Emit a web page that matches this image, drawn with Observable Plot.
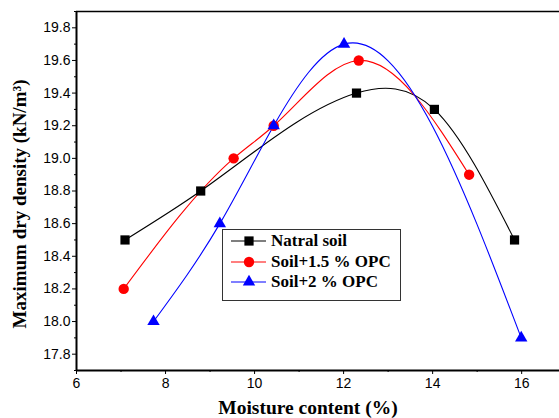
<!DOCTYPE html>
<html>
<head>
<meta charset="utf-8">
<script src="https://cdn.jsdelivr.net/npm/d3@7"></script>
<script src="https://cdn.jsdelivr.net/npm/@observablehq/plot@0.6"></script>
<style>
  html, body { margin: 0; padding: 0; background: #fff; }
  #wrap { position: relative; width: 559px; height: 418px; overflow: hidden; }
  #legend { position: absolute; left: 222px; top: 229px; width: 179px; height: 72px;
    border: 1px solid #333; background: #fff; box-sizing: border-box; }
  #legend .row { position: absolute; left: 0; height: 20px; width: 100%; }
  #legend svg { position: absolute; left: 8px; top: 0; }
  #legend span { position: absolute; left: 48px; top: 0; line-height: 20px;
    font-family: "Liberation Serif", "Times New Roman", serif; font-weight: bold; font-size: 17px; color: #000; white-space: nowrap; }
</style>
</head>
<body>
<div id="wrap"></div>
<script>
// ---- data ----
const seriesNames = ["Natral soil", "Soil+1.5 % OPC", "Soil+2 % OPC"];
const seriesColors = ["#000000", "#ff0000", "#0000ff"];
const seriesSymbols = ["square", "circle", "triangle"];

const moistureNatural = [7.09, 8.79, 12.29, 14.04, 15.84];
const densityNatural  = [18.5, 18.8, 19.4, 19.3, 18.5];

const moistureOpc15 = [7.06, 9.53, 10.43, 12.34, 14.82];
const densityOpc15  = [18.2, 19.0, 19.2, 19.6, 18.9];

const moistureOpc2 = [7.73, 9.22, 10.43, 12.01, 15.99];
const densityOpc2  = [18.0, 18.6, 19.2, 19.7, 17.9];

const xTicks = [6, 8, 10, 12, 14, 16];
const xMinorTicks = [7, 9, 11, 13, 15];
const yTicks = [17.8, 18.0, 18.2, 18.4, 18.6, 18.8, 19.0, 19.2, 19.4, 19.6, 19.8];
const yMinorTicks = [17.7, 17.9, 18.1, 18.3, 18.5, 18.7, 18.9, 19.1, 19.3, 19.5, 19.7, 19.9];
const xDomain = [6, 16.85];
const yDomain = [17.7, 19.9];
const xLabel = "Moisture content (%)";
const yLabel = "Maximum dry density (kN/m³)";

// ---- build table ----
const raw = [
  [moistureNatural, densityNatural],
  [moistureOpc15, densityOpc15],
  [moistureOpc2, densityOpc2]
];
const data = raw.flatMap(([xs, ys], i) => xs.map((x, j) => ({ x, y: ys[j], s: seriesNames[i] })));

// Curve factory: natural cubic spline of y as a function of x (like Origin's spline connector)
function curveSplineX(context) {
  let xs, ys;
  return {
    areaStart() {}, areaEnd() {},
    lineStart() { xs = []; ys = []; },
    point(x, y) { xs.push(+x); ys.push(+y); },
    lineEnd() {
      const n = xs.length;
      if (n === 0) return;
      context.moveTo(xs[0], ys[0]);
      if (n === 1) return;
      if (n === 2) { context.lineTo(xs[1], ys[1]); return; }
      const h = [], a = [], b = [], c = [], r = [];
      for (let i = 0; i < n - 1; ++i) h.push(xs[i + 1] - xs[i]);
      // solve for second derivatives M (M0 = Mn-1 = 0)
      const m = n - 2;
      for (let i = 1; i <= m; ++i) {
        a.push(h[i - 1]); b.push(2 * (h[i - 1] + h[i])); c.push(h[i]);
        r.push(6 * ((ys[i + 1] - ys[i]) / h[i] - (ys[i] - ys[i - 1]) / h[i - 1]));
      }
      for (let i = 1; i < m; ++i) {
        const w = a[i] / b[i - 1];
        b[i] -= w * c[i - 1];
        r[i] -= w * r[i - 1];
      }
      const M = new Array(n).fill(0);
      for (let i = m - 1; i >= 0; --i) {
        M[i + 1] = (r[i] - (i < m - 1 ? c[i] * M[i + 2] : 0)) / b[i];
      }
      for (let i = 0; i < n - 1; ++i) {
        const hi = h[i], s = (ys[i + 1] - ys[i]) / hi;
        const d0 = s - hi * (2 * M[i] + M[i + 1]) / 6;
        const d1 = s + hi * (M[i] + 2 * M[i + 1]) / 6;
        context.bezierCurveTo(
          xs[i] + hi / 3, ys[i] + d0 * hi / 3,
          xs[i + 1] - hi / 3, ys[i + 1] - d1 * hi / 3,
          xs[i + 1], ys[i + 1]
        );
      }
    }
  };
}

const colorScale = { domain: seriesNames, range: seriesColors };
const symbolScale = { domain: seriesNames, range: seriesSymbols };

const tickFont = { fontFamily: "'Liberation Sans', Arial, sans-serif", fontSize: 14 };
const serif = "'Liberation Serif', 'Times New Roman', serif";

const chart = Plot.plot({
  width: 559,
  height: 418,
  marginLeft: 76,
  marginRight: 0,
  marginTop: 11,
  marginBottom: 48,
  style: { background: "#fff", color: "#000", fontFamily: "'Liberation Sans', Arial, sans-serif", fontSize: "14px" },
  x: { domain: xDomain },
  y: { domain: yDomain },
  color: colorScale,
  symbol: symbolScale,
  marks: [
    Plot.axisX({ ticks: xTicks, tickSize: 4, tickPadding: 4, tickFormat: d3.format("d"), label: null, ...tickFont, fill: "#000" }),
    Plot.axisX({ ticks: xMinorTicks, tickSize: 2, tickFormat: () => "", label: null }),
    Plot.axisY({ ticks: yTicks, tickSize: 4, tickPadding: 2, tickFormat: d3.format(".1f"), label: null, ...tickFont, fill: "#000" }),
    Plot.axisY({ ticks: yMinorTicks, tickSize: 2, tickFormat: () => "", label: null }),
    Plot.ruleY([yDomain[1]], { stroke: "#000", strokeWidth: 1.6 }),
    Plot.ruleY([yDomain[0]], { stroke: "#000", strokeWidth: 2 }),
    Plot.ruleX([xDomain[0]], { stroke: "#000", strokeWidth: 2 }),
    Plot.line(data, { x: "x", y: "y", z: "s", stroke: "s", strokeWidth: 1.1, curve: curveSplineX }),
    Plot.dot(data.filter(d => d.s === seriesNames[0]), { x: "x", y: "y", symbol: "s", fill: "s", stroke: null, r: 5.2 }),
    Plot.dot(data.filter(d => d.s === seriesNames[1]), { x: "x", y: "y", symbol: "s", fill: "s", stroke: null, r: 5.2 }),
    Plot.dot(data.filter(d => d.s === seriesNames[2]), { x: "x", y: "y", symbol: "s", fill: "s", stroke: null, r: 4.6 }),
    Plot.text([xLabel], { frameAnchor: "bottom", textAnchor: "middle", dx: -10, dy: 43, fontFamily: serif, fontWeight: "bold", fontSize: 19.5, fill: "#000", lineAnchor: "bottom" }),
    Plot.text([yLabel], { frameAnchor: "left", textAnchor: "middle", rotate: -90, dx: -57, dy: 13, fontFamily: serif, fontWeight: "bold", fontSize: 19, fill: "#000", lineAnchor: "middle" })
  ]
});

const wrap = document.getElementById("wrap");
wrap.appendChild(chart);

// ---- legend ----
const legend = document.createElement("div");
legend.id = "legend";
const rowTops = [1, 22, 42];
const symMap = { square: d3.symbolSquare, circle: d3.symbolCircle, triangle: d3.symbolTriangle };
const symSize = { square: Math.PI * 5.2 * 5.2, circle: Math.PI * 5.2 * 5.2, triangle: Math.PI * 4.6 * 4.6 };
seriesNames.forEach((name, i) => {
  const row = document.createElement("div");
  row.className = "row";
  row.style.top = rowTops[i] + "px";
  const svg = d3.create("svg").attr("width", 36).attr("height", 20);
  svg.append("line").attr("x1", 0).attr("x2", 35).attr("y1", 10).attr("y2", 10)
    .attr("stroke", seriesColors[i]).attr("stroke-width", 1.1);
  svg.append("path").attr("transform", "translate(18,10)")
    .attr("d", d3.symbol(symMap[seriesSymbols[i]], symSize[seriesSymbols[i]])())
    .attr("fill", seriesColors[i]);
  row.appendChild(svg.node());
  const span = document.createElement("span");
  span.textContent = name;
  row.appendChild(span);
  legend.appendChild(row);
});
wrap.appendChild(legend);
</script>
</body>
</html>
